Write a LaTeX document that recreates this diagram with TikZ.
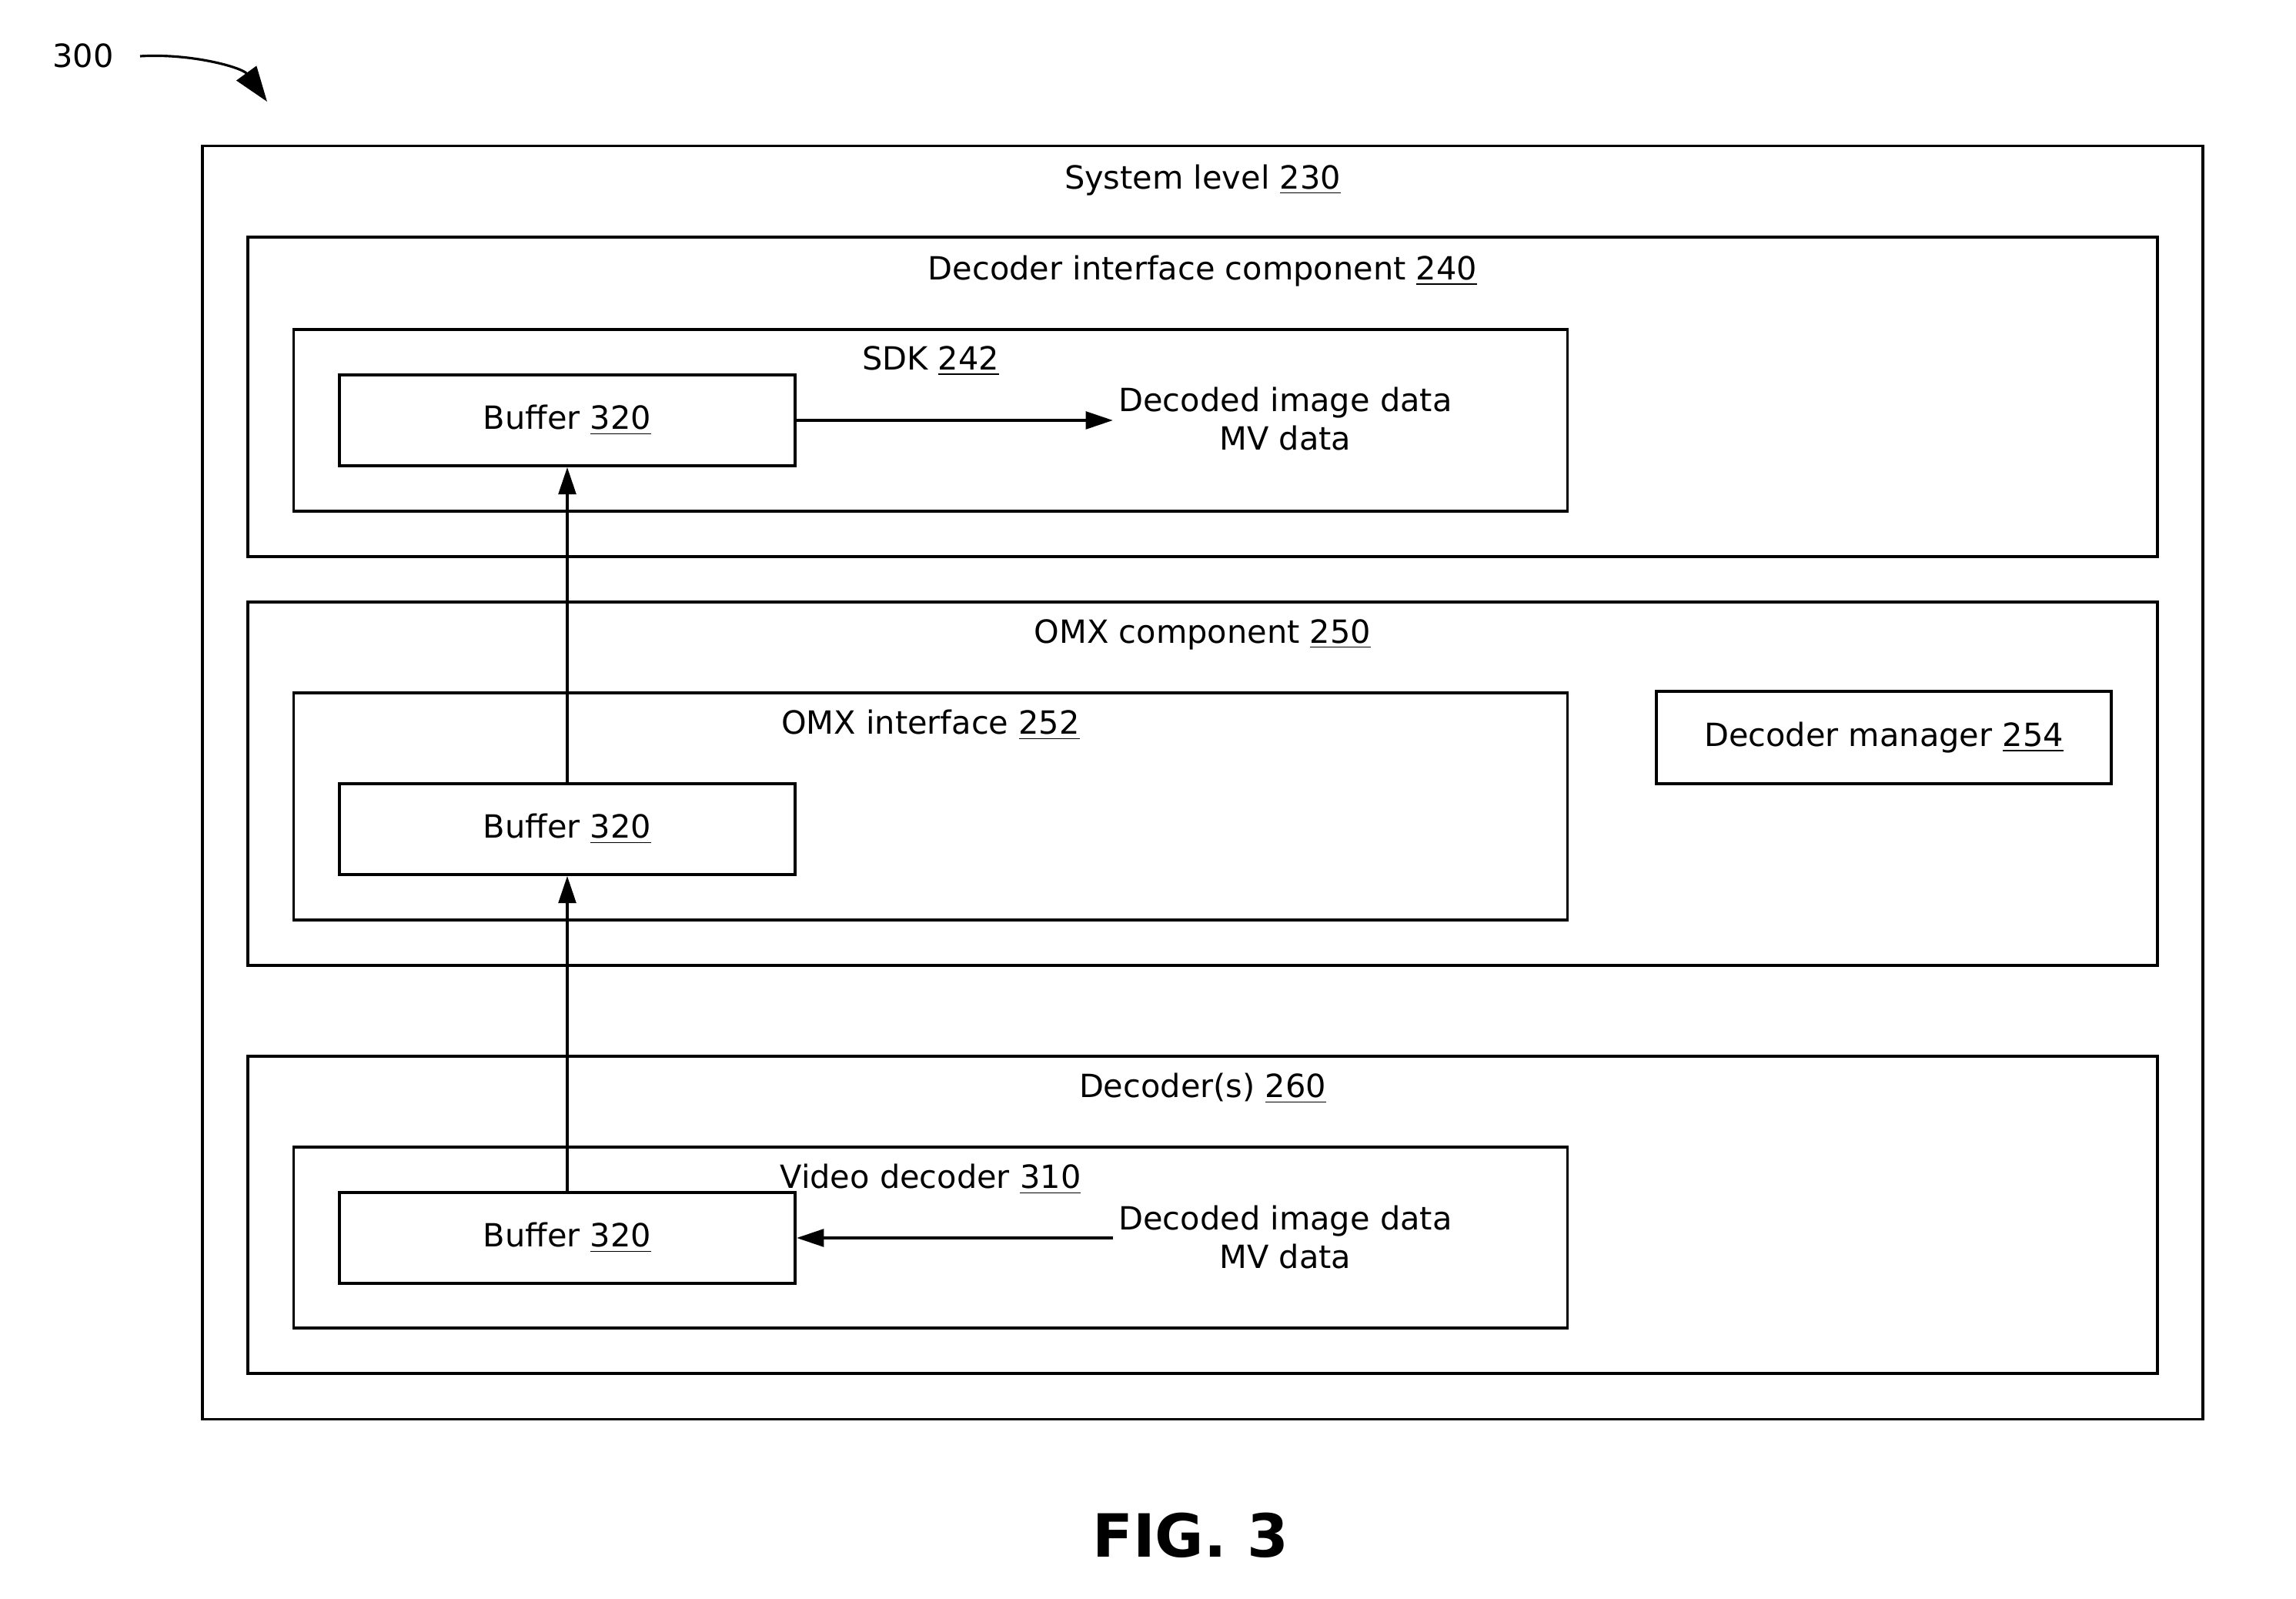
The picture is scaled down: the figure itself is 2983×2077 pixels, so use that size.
\documentclass[tikz,border=0pt]{standalone}
\usepackage{fontspec}
\setmainfont{DejaVu Sans}
\usetikzlibrary{arrows.meta}
\begin{document}
\begin{tikzpicture}[x=0.01cm,y=-0.01cm,
  box/.style={draw, line width=1.1pt, rectangle, inner sep=0pt},
  ttl/.style={font=\fontsize{11.8}{14.2}\selectfont, inner sep=1pt},
  txt/.style={font=\fontsize{11.8}{14.4}\selectfont, align=center, inner sep=2pt},
  arr/.style={line width=0.9pt, -{Triangle[length=10pt,width=6.5pt]}},
  bigarr/.style={line width=0.9pt, -{Triangle[length=13pt,width=9pt]}}
]
\useasboundingbox (0,0) rectangle (2983,2077);
% containers
\node[box, minimum width=25.97cm, minimum height=16.53cm] (outer) at (1562.5,1016.5) {};
\node[ttl] (touter) at ([yshift=-0.46cm]outer.north) {System level \underline{230}};

\node[box, minimum width=24.79cm, minimum height=4.15cm] (dic) at (1562.5,515.5) {};
\node[ttl] (tdic) at ([yshift=-0.46cm]dic.north) {Decoder interface component \underline{240}};

\node[box, minimum width=16.54cm, minimum height=2.36cm] (sdk) at (1209,546) {};
\node[ttl] (tsdk) at ([yshift=-0.43cm]sdk.north) {SDK \underline{242}};

\node[box, minimum width=5.92cm, minimum height=1.18cm, font=\fontsize{11.8}{14.2}\selectfont] (buftop) at (737,546) {Buffer \underline{320}};

\node[box, minimum width=24.79cm, minimum height=4.72cm] (omx) at (1562.5,1018) {};
\node[ttl] (tomx) at ([yshift=-0.44cm]omx.north) {OMX component \underline{250}};

\node[box, minimum width=16.54cm, minimum height=2.95cm] (omxi) at (1209,1047.5) {};
\node[ttl] (tomxi) at ([yshift=-0.44cm]omxi.north) {OMX interface \underline{252}};

\node[box, minimum width=5.92cm, minimum height=1.18cm, font=\fontsize{11.8}{14.2}\selectfont] (bufmid) at (737,1077) {Buffer \underline{320}};

\node[box, minimum width=5.91cm, minimum height=1.20cm, font=\fontsize{11.8}{14.2}\selectfont] (dmgr) at (2447.5,958) {Decoder manager \underline{254}};

\node[box, minimum width=24.79cm, minimum height=4.12cm] (decs) at (1562.5,1578) {};
\node[ttl] (tdecs) at ([yshift=-0.44cm]decs.north) {Decoder(s) \underline{260}};

\node[box, minimum width=16.54cm, minimum height=2.35cm] (vdec) at (1209,1607.5) {};
\node[ttl] (tvdec) at ([yshift=-0.44cm]vdec.north) {Video decoder \underline{310}};

\node[box, minimum width=5.92cm, minimum height=1.18cm, font=\fontsize{11.8}{14.2}\selectfont] (bufbot) at (737,1608) {Buffer \underline{320}};

% data texts
\node[txt] (dtop) at (1670,544) {Decoded image data\\MV data};
\node[txt] (dbot) at (1670,1607) {Decoded image data\\MV data};

% connectors
\draw[arr] (buftop.east) -- (buftop.east -| dtop.west);
\draw[arr] (bufbot.east -| dbot.west) -- (bufbot.east);
\draw[arr] (bufbot.north) -- (bufmid.south);
\draw[arr] (bufmid.north) -- (buftop.south);

% figure reference
\node[ttl] (n300) at (108,72) {300};
\coordinate (c300s) at (182,73);
\coordinate (c300e) at (347,132);
\draw[bigarr] (c300s) .. controls (250,69) and (315,88) .. (c300e);

\node[font=\fontsize{22}{26}\selectfont\bfseries] (fig) at (1547,1994) {FIG. 3};
\end{tikzpicture}
\end{document}
